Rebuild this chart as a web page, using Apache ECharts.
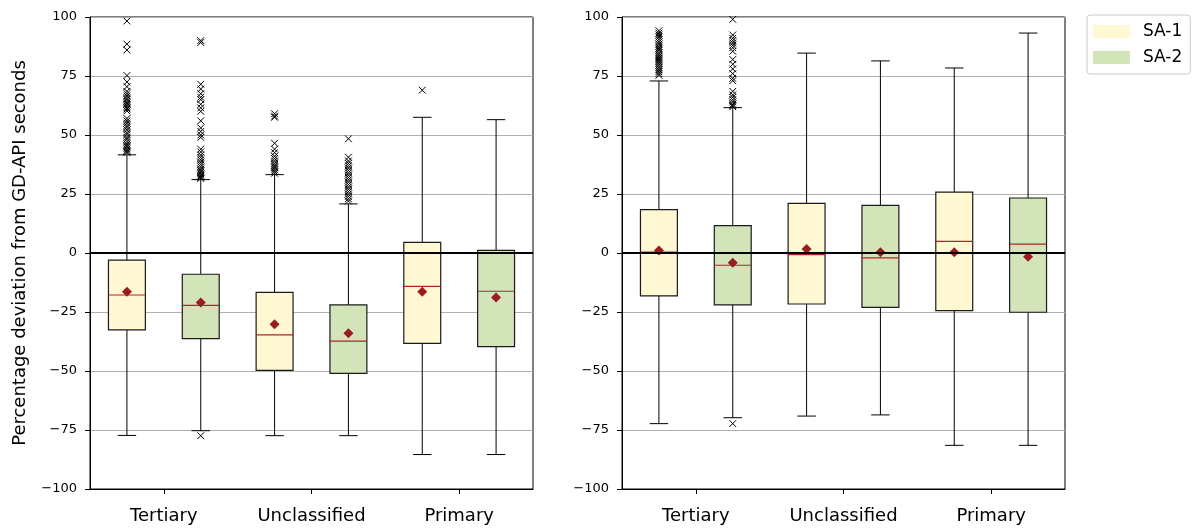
<!DOCTYPE html>
<html>
<head>
<meta charset="utf-8">
<script src="https://cdn.jsdelivr.net/npm/echarts@6/dist/echarts.min.js"></script>
<style>
html,body{margin:0;padding:0;background:#fff;}
#chart{width:1197px;height:532px;}
</style>
</head>
<body>
<div id="chart"></div>
<script>
const categories = ['Tertiary', 'Unclassified', 'Primary'];
const yTicks = [-100, -75, -50, -25, 0, 25, 50, 75, 100];
const seriesNames = ['SA-1', 'SA-2'];

// Left panel: [min whisker, Q1, median, Q3, max whisker] per category
const leftSA1 = [[-77.3, -32.6, -17.8, -3.0, 41.6], [-77.4, -49.7, -34.7, -16.7, 33.2], [-85.4, -38.3, -14.1, 4.5, 57.5]];
const leftSA2 = [[-75.3, -36.3, -22.2, -9.0, 31.1], [-77.4, -51.0, -37.3, -22.0, 20.8], [-85.4, -39.7, -16.2, 1.1, 56.5]];
const leftSA1Mean = [-16.4, -30.2, -16.4];
const leftSA2Mean = [-21.0, -34.0, -18.9];

// Right panel
const rightSA1 = [[-72.3, -18.2, 0.4, 18.4, 72.9], [-69.1, -21.6, -0.7, 21.0, 84.7], [-81.5, -24.4, 4.9, 25.8, 78.4]];
const rightSA2 = [[-69.8, -22.0, -5.2, 11.6, 61.6], [-68.6, -23.0, -2.1, 20.2, 81.4], [-81.5, -25.1, 3.8, 23.3, 93.2]];
const rightSA1Mean = [1.1, 1.7, 0.3];
const rightSA2Mean = [-4.1, 0.3, -1.6];

// Outliers per category (Tertiary, Unclassified, Primary)
const leftSA1Out = [
  [98.3, 88.5, 86, 75.2, 72.5, 70.5, 68.5, 67.5, 66.5, 65.5, 65, 64.2, 63.5, 63, 62.2, 61.5, 61, 60.2, 57, 56, 55, 54, 53.2, 52.2, 51, 50.2, 49, 48.2, 47.2, 46.2, 45.5, 45, 44.2, 43.5, 43, 42.5],
  [59, 58, 57.5, 46.5, 44, 42.5, 41, 40, 39, 38, 37.2, 36.5, 36, 35.2, 34.5, 33.8],
  [69]
];
const leftSA2Out = [
  [90, 89.2, 71.5, 69.5, 67.5, 66, 65, 63, 61.5, 60, 56, 53, 51.5, 50, 49, 44, 42.8, 41.5, 40.5, 39.5, 38.5, 37.5, 36.5, 35.5, 34.8, 34.2, 33.6, 33, 32.5, 32, 31.6, -77.4],
  [48.4, 40.6, 39, 38, 37, 36, 35, 34, 33, 32, 31, 30, 29, 28, 27, 26, 25, 24, 23, 22],
  []
];
const rightSA1Out = [
  [94.2, 93.2, 92.4, 91.5, 90.5, 89.5, 88.5, 87.6, 86.8, 86, 85, 84.2, 83.4, 82.6, 81.8, 81, 80.2, 79.4, 78.5, 77.6, 76.8, 76, 75.3],
  [],
  []
];
const rightSA2Out = [
  [99, 92.4, 91, 90, 89, 88, 87, 85.5, 82, 80, 78, 76, 74, 73, 68.5, 67, 66, 65, 64, 63, 62.5, 62, -72.3],
  [],
  []
];

const fills = ['#fff8d3', '#d3e4b9'];
const meanColor = '#9b1b22';
const medianColor = '#b2222e';
const FONT = 'DejaVu Sans';

function boxData(stats, means) {
  return stats.map((s, i) => [i, s[0], s[1], s[2], s[3], s[4], means[i]]);
}
function outData(lists) {
  const out = [];
  lists.forEach((l, i) => l.forEach(v => out.push([i, v])));
  return out;
}

function boxRender(offset, fill) {
  return function (params, api) {
    const cat = api.value(0);
    const band = api.size([1, 0])[0];
    const cx = api.coord([cat, 0])[0] + offset * band;
    const w = band * 0.25;
    const capW = w * 0.5;
    const y = k => api.coord([cat, api.value(k)])[1];
    const yMin = y(1), yQ1 = y(2), yMed = y(3), yQ3 = y(4), yMax = y(5), yMean = y(6);
    const lineStyle = { stroke: '#000', lineWidth: 1 };
    const d = 5;
    return {
      type: 'group',
      children: [
        { type: 'line', shape: { x1: cx, y1: yQ3, x2: cx, y2: yMax }, style: lineStyle },
        { type: 'line', shape: { x1: cx, y1: yQ1, x2: cx, y2: yMin }, style: lineStyle },
        { type: 'line', shape: { x1: cx - capW / 2, y1: yMax, x2: cx + capW / 2, y2: yMax }, style: lineStyle },
        { type: 'line', shape: { x1: cx - capW / 2, y1: yMin, x2: cx + capW / 2, y2: yMin }, style: lineStyle },
        { type: 'rect', shape: { x: cx - w / 2, y: yQ3, width: w, height: yQ1 - yQ3 }, style: { fill: fill, stroke: '#1a1a1a', lineWidth: 1.2 } },
        { type: 'line', shape: { x1: cx - w / 2, y1: yMed, x2: cx + w / 2, y2: yMed }, style: { stroke: medianColor, lineWidth: 1.2 } },
        { type: 'polygon', shape: { points: [[cx, yMean - d], [cx + d, yMean], [cx, yMean + d], [cx - d, yMean]] }, style: { fill: meanColor } }
      ]
    };
  };
}

function outRender(offset) {
  return function (params, api) {
    const cat = api.value(0);
    const band = api.size([1, 0])[0];
    const p = api.coord([cat, api.value(1)]);
    const cx = p[0] + offset * band;
    const cy = p[1];
    const s = 3.4;
    const st = { stroke: '#000', lineWidth: 1 };
    return {
      type: 'group',
      children: [
        { type: 'line', shape: { x1: cx - s, y1: cy - s, x2: cx + s, y2: cy + s }, style: st },
        { type: 'line', shape: { x1: cx - s, y1: cy + s, x2: cx + s, y2: cy - s }, style: st }
      ]
    };
  };
}

function yAxisCfg(gridIndex, withName) {
  const cfg = {
    type: 'value', gridIndex: gridIndex, min: -100, max: 100, interval: 25,
    axisLine: { show: true, onZero: false, lineStyle: { color: '#000', width: 1 } },
    axisTick: { show: true, length: 5, lineStyle: { color: '#000' } },
    axisLabel: {
      color: '#000', fontFamily: FONT, fontSize: 13, margin: 13,
      formatter: v => (yTicks.indexOf(v) >= 0 ? String(v).replace('-', '\u2212') : '')
    },
    splitLine: { show: true, lineStyle: { color: '#b0b0b0', width: 1 } }
  };
  if (withName) {
    cfg.name = 'Percentage deviation from GD-API seconds';
    cfg.nameLocation = 'middle';
    cfg.nameGap = 61;
    cfg.nameTextStyle = { color: '#000', fontFamily: FONT, fontSize: 18 };
  }
  return cfg;
}
function xAxisCfg(gridIndex) {
  return {
    type: 'category', gridIndex: gridIndex, data: categories, boundaryGap: true,
    axisLine: { show: true, onZero: false, lineStyle: { color: '#000', width: 1 } },
    axisTick: { show: true, alignWithLabel: true, length: 5, lineStyle: { color: '#000' } },
    axisLabel: { color: '#000', fontFamily: FONT, fontSize: 18, margin: 18 },
    splitLine: { show: false }
  };
}

function panelSeries(idx, sa1, sa2, m1, m2, o1, o2) {
  return [
    {
      type: 'custom', name: 'SA-1 outliers', xAxisIndex: idx, yAxisIndex: idx, z: 1,
      renderItem: outRender(-0.25), data: outData(o1), silent: true,
      markLine: {
        silent: true, symbol: 'none', animation: false,
        label: { show: false },
        lineStyle: { color: '#000', width: 2, type: 'solid' },
        data: [{ yAxis: 0 }]
      }
    },
    {
      type: 'custom', name: 'SA-2 outliers', xAxisIndex: idx, yAxisIndex: idx, z: 1,
      renderItem: outRender(0.25), data: outData(o2), silent: true
    },
    {
      type: 'custom', name: 'SA-1', xAxisIndex: idx, yAxisIndex: idx, z: 3,
      itemStyle: { color: fills[0] },
      renderItem: boxRender(-0.25, fills[0]), data: boxData(sa1, m1)
    },
    {
      type: 'custom', name: 'SA-2', xAxisIndex: idx, yAxisIndex: idx, z: 3,
      itemStyle: { color: fills[1] },
      renderItem: boxRender(0.25, fills[1]), data: boxData(sa2, m2)
    }
  ];
}

const chart = echarts.init(document.getElementById('chart'), null, { renderer: 'canvas' });
chart.setOption({
  animation: false,
  backgroundColor: '#fff',
  textStyle: { fontFamily: FONT },
  grid: [
    { left: 90, top: 17, width: 443, height: 472, show: true, borderColor: '#000', borderWidth: 1, backgroundColor: 'transparent' },
    { left: 622, top: 17, width: 443, height: 472, show: true, borderColor: '#000', borderWidth: 1, backgroundColor: 'transparent' }
  ],
  xAxis: [xAxisCfg(0), xAxisCfg(1)],
  yAxis: [yAxisCfg(0, true), yAxisCfg(1, false)],
  legend: {
    left: 1087, top: 15, orient: 'vertical',
    itemWidth: 37, itemHeight: 13, itemGap: 9,
    padding: [8, 8, 8, 6],
    borderColor: '#cccccc', borderWidth: 1, borderRadius: 3,
    textStyle: { fontFamily: FONT, fontSize: 17, color: '#000', padding: [0, 0, 0, 8] },
    data: [
      { name: 'SA-1', icon: 'rect', itemStyle: { color: fills[0] } },
      { name: 'SA-2', icon: 'rect', itemStyle: { color: fills[1] } }
    ]
  },
  series: [].concat(
    panelSeries(0, leftSA1, leftSA2, leftSA1Mean, leftSA2Mean, leftSA1Out, leftSA2Out),
    panelSeries(1, rightSA1, rightSA2, rightSA1Mean, rightSA2Mean, rightSA1Out, rightSA2Out)
  )
});
</script>
</body>
</html>
